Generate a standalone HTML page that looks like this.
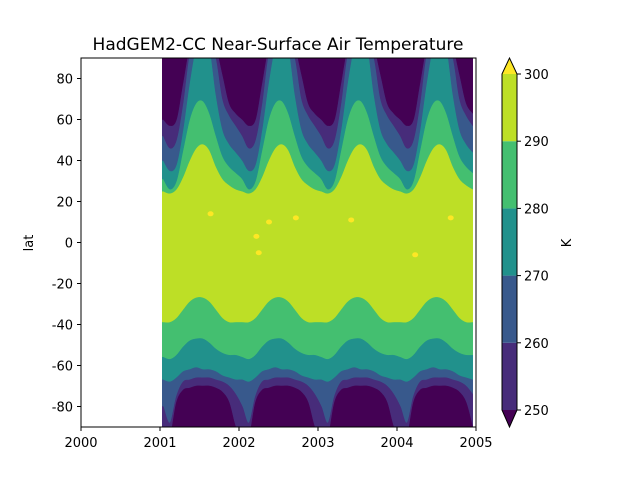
<!DOCTYPE html>
<html><head><meta charset="utf-8"><style>
body{margin:0;background:#fff;}
svg text{font-family:"DejaVu Sans","Liberation Sans",sans-serif;fill:#000;}
</style></head><body>
<svg id="chart" width="640" height="480" viewBox="0 0 640 480">
<defs><clipPath id="clip"><rect x="162" y="58" width="311" height="369"/></clipPath></defs>
<text x="278" y="50" font-size="17" text-anchor="middle">HadGEM2-CC Near-Surface Air Temperature</text>
<g id="plot" clip-path="url(#clip)"></g>
<rect x="81" y="58" width="395" height="369" fill="none" stroke="#000" stroke-width="1"/>
<g id="axes"></g>
<text transform="translate(33,243) rotate(-90)" font-size="13" text-anchor="middle">lat</text>
<g id="cbar"></g>
<text transform="translate(571,243) rotate(-90)" font-size="13" text-anchor="middle">K</text>
</svg>
<script>
const years=[2001,2002,2003,2004];
const levels=[250,260,270,280,290,300];
const xTicks=[2000,2001,2002,2003,2004,2005];
const yTicks=[-80,-60,-40,-20,0,20,40,60,80];
// monthly contour latitudes (Jan..Dec), northern hemisphere
const north290=[25,24,26,32,40,46,48,45,37,31,28,26];
const north280=[31,26,30,45,60,68,69,63,52,42,37,34];
const north270=[40,35,38,55,78,95,95,95,72,55,48,44];
const north260=[52,46,50,68,92,95,95,95,90,70,62,57];
const north250=[60,57,60,78,95,95,95,95,95,82,68,63];
// southern hemisphere
const south290=[-39,-39,-37,-33,-29,-27,-27,-29,-33,-37,-39,-39];
const south280=[-56,-57,-55,-51,-48,-47,-47,-49,-52,-54,-55,-55];
const south270=[-67,-68,-66,-63,-62,-61,-62,-62,-63,-65,-66,-67];
const south260=[-80,-88,-75,-68,-67,-66,-66,-66,-67,-68,-70,-74];
const south250=[-95,-95,-78,-72,-71,-70,-70,-70,-71,-73,-78,-90];
// small >300K patches
const blobTimes=[2001.64,2002.22,2002.25,2002.38,2002.72,2003.42,2004.23,2004.68];
const blobLats=[14,3,-5,10,12,11,-6,12];
const colors=["#440154","#472c7a","#38598c","#21918c","#44bf70","#bddf26","#fde725"];

const NS="http://www.w3.org/2000/svg";
const xS=t=>81+(t-2000)*79;
const yS=l=>242.5-l*2.05;
const cS=v=>410-(v-250)*6.72;
function mk(tag,attrs,parent){const e=document.createElementNS(NS,tag);for(const k in attrs)e.setAttribute(k,attrs[k]);parent.appendChild(e);return e;}
function series(arr){const pts=[];years.forEach(y=>arr.forEach((v,m)=>pts.push([y+(m+0.5)/12,v])));return pts;}
const plot=document.getElementById('plot');
const bg=mk('rect',{x:162,y:58,width:311,height:369,fill:colors[5]},plot);


function smoothPath(p){
  let d=` L${p[0][0]},${p[0][1]}`;
  for(let i=0;i<p.length-1;i++){
    const p0=p[Math.max(0,i-1)],p1=p[i],p2=p[i+1],p3=p[Math.min(p.length-1,i+2)];
    const c1=[p1[0]+(p2[0]-p0[0])/6,p1[1]+(p2[1]-p0[1])/6];
    const c2=[p2[0]-(p3[0]-p1[0])/6,p2[1]-(p3[1]-p1[1])/6];
    d+=` C${c1[0]},${c1[1]} ${c2[0]},${c2[1]} ${p2[0]},${p2[1]}`;
  }
  return d;
}
function band(arr,edgeY,color,name){
  const s=series(arr);
  const p=s.map(q=>[xS(q[0]),yS(q[1])]);
  const x0=p[0][0]-3,x1=p[p.length-1][0]+3;
  let d=`M${x0},${edgeY} L${x0},${p[0][1]}`;
  d+=smoothPath(p);
  d+=` L${x1},${p[p.length-1][1]} L${x1},${edgeY} Z`;
  const e=mk('path',{d:d,fill:color,'stroke':color,'stroke-width':0.5},plot);
  
  
}
band(north290,40,colors[4],'north-band-280-290');
band(north280,40,colors[3],'north-band-270-280');
band(north270,40,colors[2],'north-band-260-270');
band(north260,40,colors[1],'north-band-250-260');
band(north250,40,colors[0],'north-band-below-250');
band(south290,440,colors[4],'south-band-280-290');
band(south280,440,colors[3],'south-band-270-280');
band(south270,440,colors[2],'south-band-260-270');
band(south260,440,colors[1],'south-band-250-260');
band(south250,440,colors[0],'south-band-below-250');
blobTimes.forEach((t,i)=>{
  const e=mk('ellipse',{cx:xS(t),cy:yS(blobLats[i]),rx:3,ry:2.5,fill:colors[6]},plot);
  
  
});
const axes=document.getElementById('axes');
xTicks.forEach(t=>{
  const x=xS(t);
  const l=mk('line',{x1:x,x2:x,y1:427,y2:431,stroke:'#000'},axes);
  
  
  const tx=mk('text',{x:x,y:447,'font-size':13,'text-anchor':'middle'},axes);
  tx.textContent=t;
  
  
});
yTicks.forEach(v=>{
  const y=yS(v);
  const l=mk('line',{x1:77,x2:81,y1:y,y2:y,stroke:'#000'},axes);
  
  
  const tx=mk('text',{x:73,y:y+5,'font-size':13,'text-anchor':'end'},axes);
  tx.textContent=v;
  
  
});
const cb=document.getElementById('cbar');
for(let i=0;i<levels.length-1;i++){
  const r=mk('rect',{x:502,y:cS(levels[i+1]),width:15,height:cS(levels[i])-cS(levels[i+1]),fill:colors[i+1]},cb);
  
  
}
const tt=mk('polygon',{points:`502,74 517,74 509.5,58`,fill:colors[6]},cb);


const tb=mk('polygon',{points:`502,410 517,410 509.5,427`,fill:colors[0]},cb);


const ol=mk('polygon',{points:`502,74 509.5,58 517,74 517,410 509.5,427 502,410`,fill:'none',stroke:'#000','stroke-width':1},cb);


levels.forEach(v=>{
  const y=cS(v);
  const l=mk('line',{x1:517,x2:521,y1:y,y2:y,stroke:'#000'},cb);
  
  
  const tx=mk('text',{x:524,y:y+5,'font-size':13},cb);
  tx.textContent=v;
  
  
});
</script>
</body></html>
